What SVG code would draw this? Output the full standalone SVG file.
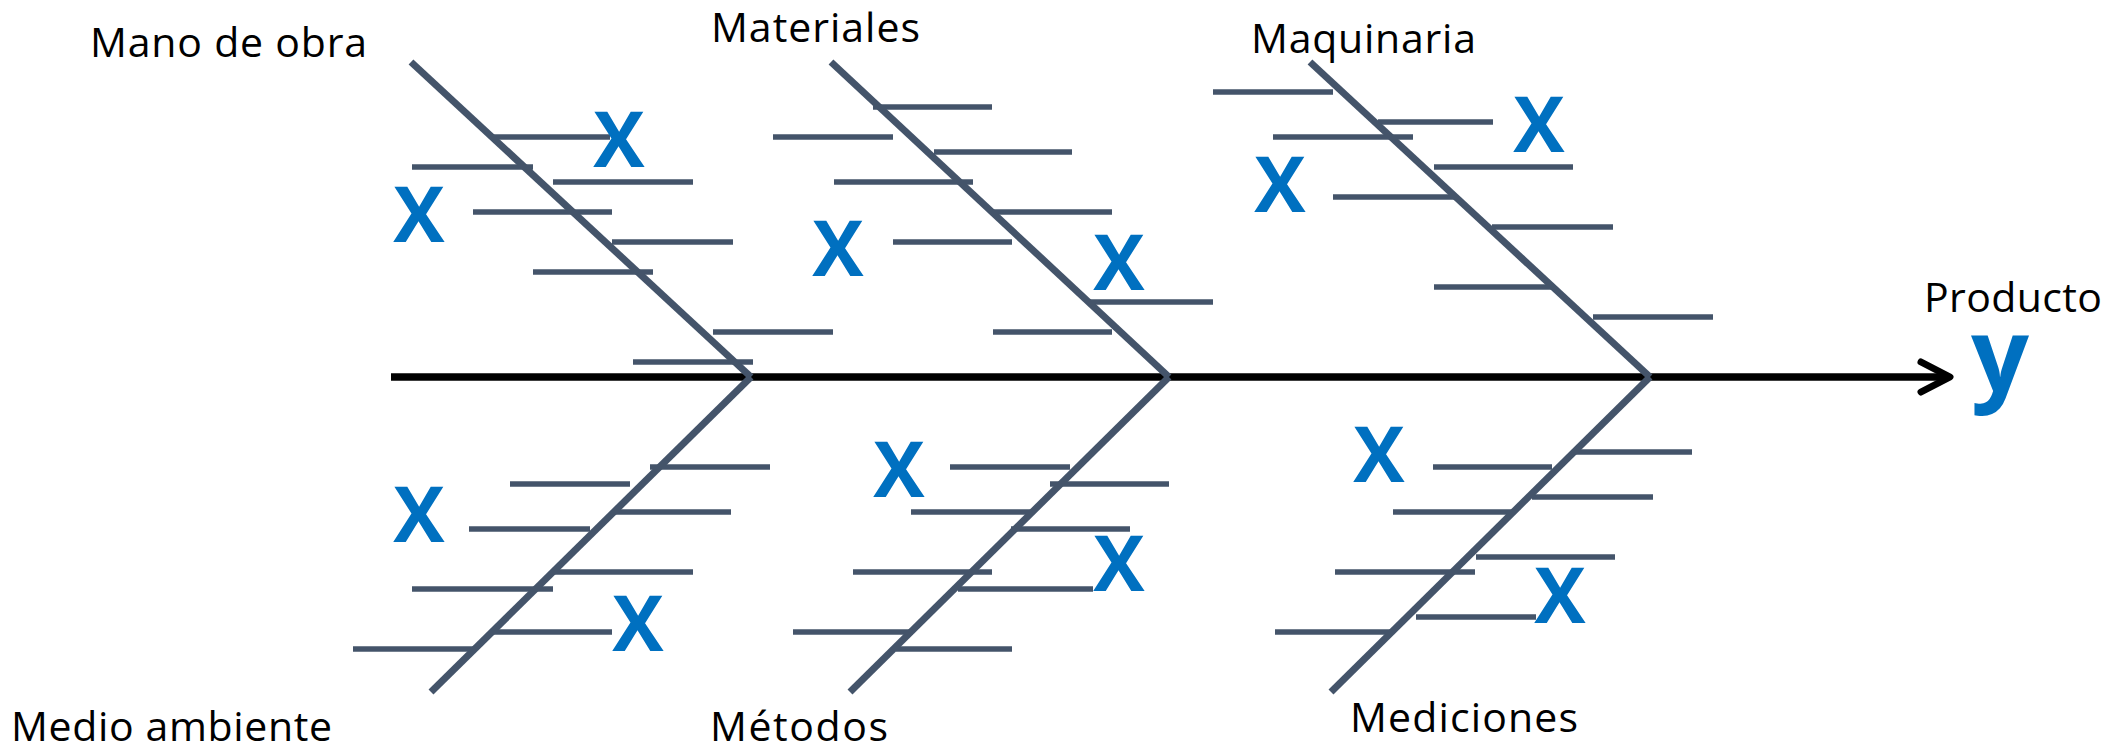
<svg xmlns="http://www.w3.org/2000/svg" width="2113" height="750" viewBox="0 0 2113 750">
<style>
.bone{stroke:#44546A;stroke-width:7;fill:none;stroke-linecap:butt}
.rib{stroke:#44546A;stroke-width:5.5;fill:none;stroke-linecap:butt}
.spine{stroke:#000;stroke-width:7.5;fill:none}
.head{stroke:#000;stroke-width:7;fill:none;stroke-linecap:round;stroke-linejoin:round}
.lbl{font-family:"Open Sans","Liberation Sans",sans-serif;font-size:41px;fill:#000}
.x{font-family:"Open Sans","Liberation Sans",sans-serif;font-weight:bold;font-size:77px;fill:#0070C0;text-anchor:middle}
.y{font-family:"Open Sans","Liberation Sans",sans-serif;font-weight:bold;font-size:102px;fill:#0070C0;text-anchor:middle}
</style>
<rect width="2113" height="750" fill="#fff"/>
<g id="connectors">
<line class="spine" x1="391" y1="377" x2="1948" y2="377"/>
<polyline class="head" points="1921,362 1950,377 1921,392"/>
</g>
<g id="mano-de-obra">
<line class="bone" x1="411" y1="62" x2="751" y2="377"/>
<line class="rib" x1="492" y1="137" x2="610" y2="137"/>
<line class="rib" x1="412" y1="167" x2="533" y2="167"/>
<line class="rib" x1="553" y1="182" x2="693" y2="182"/>
<line class="rib" x1="473" y1="212" x2="612" y2="212"/>
<line class="rib" x1="612" y1="242" x2="733" y2="242"/>
<line class="rib" x1="533" y1="272" x2="653" y2="272"/>
<line class="rib" x1="713" y1="332" x2="833" y2="332"/>
<line class="rib" x1="633" y1="362" x2="753" y2="362"/>
<text class="x" x="619" y="167">X</text>
<text class="x" x="419" y="242">X</text>
<text class="lbl" x="90" y="57" textLength="277">Mano de obra</text>
</g>
<g id="materiales">
<line class="bone" x1="831" y1="62" x2="1169" y2="377"/>
<line class="rib" x1="873" y1="107" x2="992" y2="107"/>
<line class="rib" x1="773" y1="137" x2="893" y2="137"/>
<line class="rib" x1="934" y1="152" x2="1072" y2="152"/>
<line class="rib" x1="834" y1="182" x2="973" y2="182"/>
<line class="rib" x1="993" y1="212" x2="1112" y2="212"/>
<line class="rib" x1="893" y1="242" x2="1012" y2="242"/>
<line class="rib" x1="1090" y1="302" x2="1213" y2="302"/>
<line class="rib" x1="993" y1="332" x2="1112" y2="332"/>
<text class="x" x="838" y="276">X</text>
<text class="x" x="1119" y="290">X</text>
<text class="lbl" x="711" y="42" textLength="209">Materiales</text>
</g>
<g id="maquinaria">
<line class="bone" x1="1310" y1="62" x2="1650" y2="377"/>
<line class="rib" x1="1213" y1="92" x2="1333" y2="92"/>
<line class="rib" x1="1378" y1="122" x2="1493" y2="122"/>
<line class="rib" x1="1273" y1="137" x2="1413" y2="137"/>
<line class="rib" x1="1434" y1="167" x2="1573" y2="167"/>
<line class="rib" x1="1333" y1="197" x2="1454" y2="197"/>
<line class="rib" x1="1492" y1="227" x2="1613" y2="227"/>
<line class="rib" x1="1434" y1="287" x2="1554" y2="287"/>
<line class="rib" x1="1593" y1="317" x2="1713" y2="317"/>
<text class="x" x="1280" y="212">X</text>
<text class="x" x="1539" y="152">X</text>
<text class="lbl" x="1251" y="53" textLength="225">Maquinaria</text>
</g>
<g id="medio-ambiente">
<line class="bone" x1="751" y1="377" x2="431" y2="692"/>
<line class="rib" x1="650" y1="467" x2="770" y2="467"/>
<line class="rib" x1="510" y1="484" x2="630" y2="484"/>
<line class="rib" x1="612" y1="512" x2="731" y2="512"/>
<line class="rib" x1="469" y1="529" x2="590" y2="529"/>
<line class="rib" x1="553" y1="572" x2="693" y2="572"/>
<line class="rib" x1="412" y1="589" x2="553" y2="589"/>
<line class="rib" x1="492" y1="632" x2="612" y2="632"/>
<line class="rib" x1="353" y1="649" x2="473" y2="649"/>
<text class="x" x="419" y="542">X</text>
<text class="x" x="638" y="651">X</text>
<text class="lbl" x="11" y="741" textLength="321">Medio ambiente</text>
</g>
<g id="metodos">
<line class="bone" x1="1169" y1="377" x2="850" y2="692"/>
<line class="rib" x1="950" y1="467" x2="1070" y2="467"/>
<line class="rib" x1="1050" y1="484" x2="1169" y2="484"/>
<line class="rib" x1="911" y1="512" x2="1032" y2="512"/>
<line class="rib" x1="1011" y1="529" x2="1130" y2="529"/>
<line class="rib" x1="853" y1="572" x2="992" y2="572"/>
<line class="rib" x1="958" y1="589" x2="1093" y2="589"/>
<line class="rib" x1="793" y1="632" x2="913" y2="632"/>
<line class="rib" x1="896" y1="649" x2="1012" y2="649"/>
<text class="x" x="899" y="497">X</text>
<text class="x" x="1119" y="591">X</text>
<text class="lbl" x="710" y="741" textLength="178">Métodos</text>
</g>
<g id="mediciones">
<line class="bone" x1="1650" y1="377" x2="1331" y2="692"/>
<line class="rib" x1="1576" y1="452" x2="1692" y2="452"/>
<line class="rib" x1="1433" y1="467" x2="1552" y2="467"/>
<line class="rib" x1="1532" y1="497" x2="1653" y2="497"/>
<line class="rib" x1="1393" y1="512" x2="1512" y2="512"/>
<line class="rib" x1="1476" y1="557" x2="1615" y2="557"/>
<line class="rib" x1="1335" y1="572" x2="1475" y2="572"/>
<line class="rib" x1="1416" y1="617" x2="1536" y2="617"/>
<line class="rib" x1="1275" y1="632" x2="1393" y2="632"/>
<text class="x" x="1379" y="482">X</text>
<text class="x" x="1560" y="623">X</text>
<text class="lbl" x="1350" y="732" textLength="228">Mediciones</text>
</g>
<g id="producto">
<text class="lbl" x="1924" y="312" textLength="178">Producto</text>
<text class="y" x="2000" y="391">y</text>
</g>
</svg>
